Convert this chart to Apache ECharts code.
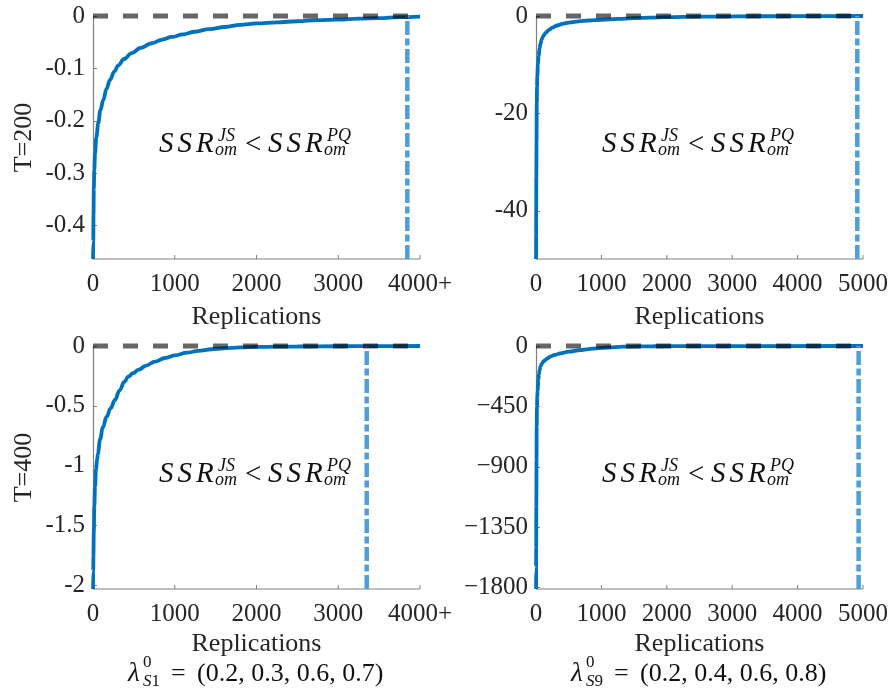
<!DOCTYPE html>
<html><head><meta charset="utf-8">
<script src="https://cdn.jsdelivr.net/npm/echarts@6/dist/echarts.min.js"></script>
<style>html,body{margin:0;padding:0;background:#fff}#c{width:891px;height:692px}</style>
</head><body><div id="c"></div>
<script>
// ---- data ----
const xTL = [1, 3, 6, 10, 16, 25, 40, 65, 90, 126, 165, 208, 260, 310, 380, 473, 580, 718, 850, 962, 1100, 1247, 1420, 1615, 1800, 2000, 2250, 2500, 2750, 3000, 3250, 3500, 3750, 4000];
const yTL = [-0.4635, -0.43, -0.38, -0.33, -0.293, -0.262, -0.232, -0.204, -0.18, -0.16, -0.139, -0.122, -0.106, -0.094, -0.082, -0.071, -0.061, -0.052, -0.045, -0.040, -0.035, -0.030, -0.025, -0.021, -0.017, -0.014, -0.012, -0.010, -0.008, -0.007, -0.005, -0.004, -0.002, -0.001];
const xTR = [1, 2, 3, 5, 8, 12, 16, 20, 30, 40, 55, 66, 90, 116, 150, 193, 250, 320, 420, 525, 650, 800, 1000, 1250, 1500, 1750, 2000, 2500, 3000, 4000, 5000];
const yTR = [-49.9, -45, -40, -33, -26, -18, -14.5, -12.4, -10, -8.3, -6.6, -5.8, -4.7, -4.0, -3.4, -2.9, -2.4, -1.95, -1.55, -1.3, -1.1, -0.92, -0.78, -0.6, -0.45, -0.35, -0.25, -0.14, -0.08, -0.03, 0];
const xBL = [1, 3, 5, 10, 16, 25, 37, 50, 60, 86, 120, 167, 215, 269, 325, 383, 432, 490, 554, 650, 758, 880, 1003, 1150, 1288, 1450, 1600, 1800, 2000, 2500, 3000, 3500, 4000];
const yBL = [-2.028, -1.88, -1.75, -1.55, -1.34, -1.17, -1.03, -0.95, -0.9, -0.78, -0.68, -0.59, -0.52, -0.45, -0.37, -0.3, -0.256, -0.227, -0.2, -0.163, -0.13, -0.1, -0.078, -0.056, -0.04, -0.027, -0.019, -0.012, -0.008, -0.004, -0.002, -0.001, 0];
const xBR = [1, 2, 3, 5, 8, 11, 15, 20, 25, 35, 45, 55, 70, 92, 115, 142, 180, 219, 290, 372, 500, 678, 800, 933, 1100, 1335, 1600, 1800, 2500, 5000];
const yBR = [-1810, -1650, -1500, -1197, -850, -600, -452, -380, -330, -253, -210, -179, -152, -129, -115, -104, -91, -79, -66, -55, -42, -30, -23, -17, -11, -5, -3, -2, -0.5, 0];
const vLine = [3845, 4913, 3348, 4933];          // dash-dot vertical markers
const xMax = [4000, 5000, 4000, 5000];
const yMin = [-0.4635, -49.9, -2.028, -1810];
const yTicks = [[0, -0.1, -0.2, -0.3, -0.4], [0, -20, -40], [0, -0.5, -1, -1.5, -2], [0, -450, -900, -1350, -1800]];
const xTicks = [[0, 1000, 2000, 3000, 4000], [0, 1000, 2000, 3000, 4000, 5000], [0, 1000, 2000, 3000, 4000], [0, 1000, 2000, 3000, 4000, 5000]];
const xTickLabels = [['0', '1000', '2000', '3000', '4000+'], ['0', '1000', '2000', '3000', '4000', '5000'], ['0', '1000', '2000', '3000', '4000+'], ['0', '1000', '2000', '3000', '4000', '5000']];
const yTickLabels = [['0', '-0.1', '-0.2', '-0.3', '-0.4'], ['0', '-20', '-40'], ['0', '-0.5', '-1', '-1.5', '-2'], ['0', '\u2212450', '\u2212900', '\u22121350', '\u22121800']];
const yNames = ['T=200', '', 'T=400', ''];
const xName = 'Replications';
const lambdaSub = ['S1', 'S9'];
const lambdaVals = ['(0.2, 0.3, 0.6, 0.7)', '(0.2, 0.4, 0.6, 0.8)'];

const xs = [xTL, xTR, xBL, xBR], ys = [yTL, yTR, yBL, yBR];
const FONT = "'Liberation Serif', 'Times New Roman', serif";
const TXT = '#262626', AX = '#808080';
const lefts = [93, 536, 93, 536], tops = [16, 16, 346, 346];
const nameGaps = [45, 45, 42, 42];
const W = 327, H = 243;
const TICK_PX = 4;

const grid = [], xAxis = [], yAxis = [], series = [], graphic = [];
for (let i = 0; i < 4; i++) {
  grid.push({left: lefts[i], top: tops[i], width: W, height: H});
  const xl = xTickLabels[i], xt = xTicks[i], yl = yTickLabels[i], yt = yTicks[i];
  xAxis.push({
    type: 'value', gridIndex: i, min: 0, max: xMax[i], interval: 1000, position: 'bottom',
    axisLine: {show: false, onZero: false},
    axisTick: {show: false},
    splitLine: {show: false},
    axisLabel: {color: TXT, fontFamily: FONT, fontSize: 25, margin: 13,
      formatter: v => { const k = xt.indexOf(v); return k >= 0 ? xl[k] : ''; }},
    name: xName, nameLocation: 'middle', nameGap: nameGaps[i],
    nameTextStyle: {color: TXT, fontFamily: FONT, fontSize: 26}
  });
  yAxis.push({
    type: 'value', gridIndex: i, min: yMin[i], max: 0, position: 'left',
    axisLine: {show: true, onZero: false, lineStyle: {color: AX, width: 1.2}},
    axisTick: {show: true, inside: true, length: 4, lineStyle: {color: AX, width: 1}, customValues: yt},
    splitLine: {show: false},
    axisLabel: {color: TXT, fontFamily: FONT, fontSize: 25, margin: 8, customValues: yt,
      formatter: v => { let k = -1; yt.forEach((t, j) => { if (Math.abs(t - v) < 1e-9) k = j; }); return k >= 0 ? yl[k] : ''; }},
    name: yNames[i], nameLocation: 'middle', nameGap: 56, nameRotate: 90,
    nameTextStyle: {color: TXT, fontFamily: FONT, fontSize: 26}
  });
  // bottom axis line (plain line series along y = min)
  series.push({
    type: 'line', xAxisIndex: i, yAxisIndex: i, showSymbol: false, clip: false, silent: true,
    data: [[0, yMin[i]], [xMax[i], yMin[i]]],
    lineStyle: {color: AX, width: 1.2}, z: 1
  });
  // inward x ticks (short segments, broken by '-')
  const tickLen = (0 - yMin[i]) * TICK_PX / H;
  const tickData = [];
  xt.forEach(v => { if (v !== 0) { tickData.push([v, yMin[i]], [v, yMin[i] + tickLen], '-'); } });
  series.push({
    type: 'line', xAxisIndex: i, yAxisIndex: i, showSymbol: false, clip: false, silent: true,
    connectNulls: false, data: tickData,
    lineStyle: {color: AX, width: 1}, z: 1
  });
  series.push({
    type: 'line', xAxisIndex: i, yAxisIndex: i, showSymbol: false, clip: false,
    smooth: 0.4, smoothMonotone: 'x',
    data: xs[i].map((x, j) => [x, ys[i][j]]),
    lineStyle: {color: '#0072BD', width: 3.8}, z: 2
  });
  series.push({
    type: 'line', xAxisIndex: i, yAxisIndex: i, showSymbol: false, clip: false,
    data: [[vLine[i], yMin[i]], [vLine[i], 0]],
    lineStyle: {color: '#4d9fd9', width: 4.5, type: [14, 3.5, 7, 3.5]}, z: 3
  });
  series.push({
    type: 'line', xAxisIndex: i, yAxisIndex: i, showSymbol: false, clip: false,
    data: [[0, 0], [xMax[i], 0]],
    lineStyle: {color: 'rgba(0,0,0,0.6)', width: 5, type: [15, 15]}, z: 4
  });

  // annotation SSR^{JS}_{om} < SSR^{PQ}_{om}
  const big = {fontFamily: FONT, fontSize: 29, fontStyle: 'italic', fill: '#111'};
  const small = {fontFamily: FONT, fontSize: 18, fontStyle: 'italic', fill: '#111'};
  const t = (x, y, text, st) => ({type: 'text', x: x, y: y, style: Object.assign({text: text, align: 'left', verticalAlign: 'middle'}, st)});
  graphic.push({
    type: 'group', x: lefts[i] + 66, y: tops[i] + 128,
    children: [
      t(0, 0, 'S', big), t(18.5, 0, 'S', big), t(37, 0, 'R', big),
      t(59, -8, 'JS', small), t(56, 6, 'om', small),
      t(86, 1, '<', Object.assign({}, big, {fontStyle: 'normal'})),
      t(109, 0, 'S', big), t(127.5, 0, 'S', big), t(146, 0, 'R', big),
      t(168, -8, 'PQ', small), t(165, 6, 'om', small)
    ]
  });
}
// lambda labels below bottom panels
for (let k = 0; k < 2; k++) {
  const L = lefts[2 + k];
  graphic.push({
    type: 'group', x: L, y: 674,
    children: [
      {type: 'text', x: 35, y: 0, style: {text: '\u03bb', fontFamily: FONT, fontSize: 27, fontStyle: 'italic', fill: '#111', verticalAlign: 'middle'}},
      {type: 'text', x: 50, y: -11, style: {text: '0', fontFamily: FONT, fontSize: 17, fill: '#111', verticalAlign: 'middle'}},
      {type: 'text', x: 50, y: 8, style: {text: '{i|' + lambdaSub[k][0] + '}{n|' + lambdaSub[k].slice(1) + '}', verticalAlign: 'middle',
        rich: {i: {fontFamily: FONT, fontSize: 17, fontStyle: 'italic', fill: '#111'}, n: {fontFamily: FONT, fontSize: 17, fill: '#111'}}}},
      {type: 'text', x: 78, y: 0, style: {text: '=', fontFamily: FONT, fontSize: 26, fill: '#111', verticalAlign: 'middle'}},
      {type: 'text', x: 104, y: 0, style: {text: lambdaVals[k], fontFamily: FONT, fontSize: 26, fill: '#111', verticalAlign: 'middle'}}
    ]
  });
}

const chart = echarts.init(document.getElementById('c'), null, {renderer: 'canvas'});
chart.setOption({animation: false, backgroundColor: '#fff', grid, xAxis, yAxis, series, graphic});
</script>
</body></html>
